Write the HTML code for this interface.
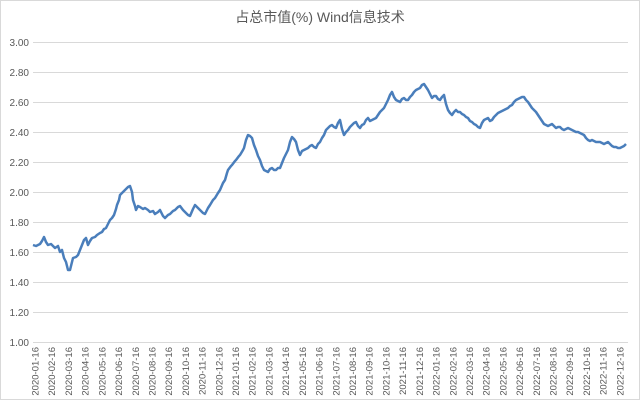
<!DOCTYPE html>
<html><head><meta charset="utf-8"><style>
html,body{margin:0;padding:0;background:#fff;}
svg{display:block;}
text{font-family:"Liberation Sans","Noto Sans CJK SC",sans-serif;fill:#595959;}
</style></head><body>
<svg width="640" height="400" viewBox="0 0 640 400" xmlns="http://www.w3.org/2000/svg">
<rect x="0.5" y="0.5" width="639" height="399" fill="#fff" stroke="#d9d9d9"/>
<text x="320" y="22" font-size="14" text-anchor="middle">占总市值(%) Wind信息技术</text>
<g stroke="#d9d9d9" stroke-width="1">
<line x1="33" x2="628" y1="42.5" y2="42.5"/>
<line x1="33" x2="628" y1="72.5" y2="72.5"/>
<line x1="33" x2="628" y1="102.5" y2="102.5"/>
<line x1="33" x2="628" y1="132.5" y2="132.5"/>
<line x1="33" x2="628" y1="162.5" y2="162.5"/>
<line x1="33" x2="628" y1="192.5" y2="192.5"/>
<line x1="33" x2="628" y1="222.5" y2="222.5"/>
<line x1="33" x2="628" y1="252.5" y2="252.5"/>
<line x1="33" x2="628" y1="282.5" y2="282.5"/>
<line x1="33" x2="628" y1="312.5" y2="312.5"/>
<line x1="33" x2="628" y1="342.5" y2="342.5"/>
</g>
<g font-size="10" text-anchor="end">
<text x="29" y="46">3.00</text><text x="29" y="76">2.80</text><text x="29" y="106">2.60</text>
<text x="29" y="136">2.40</text><text x="29" y="166">2.20</text><text x="29" y="196">2.00</text>
<text x="29" y="226">1.80</text><text x="29" y="256">1.60</text><text x="29" y="286">1.40</text>
<text x="29" y="316">1.20</text><text x="29" y="346">1.00</text>
</g>
<g font-size="9.5" text-anchor="end">
<text transform="translate(38.5,347) rotate(-90)">2020-01-16</text>
<text transform="translate(55.2,347) rotate(-90)">2020-02-16</text>
<text transform="translate(71.9,347) rotate(-90)">2020-03-16</text>
<text transform="translate(88.6,347) rotate(-90)">2020-04-16</text>
<text transform="translate(105.3,347) rotate(-90)">2020-05-16</text>
<text transform="translate(122.1,347) rotate(-90)">2020-06-16</text>
<text transform="translate(138.8,347) rotate(-90)">2020-07-16</text>
<text transform="translate(155.5,347) rotate(-90)">2020-08-16</text>
<text transform="translate(172.2,347) rotate(-90)">2020-09-16</text>
<text transform="translate(188.9,347) rotate(-90)">2020-10-16</text>
<text transform="translate(205.6,347) rotate(-90)">2020-11-16</text>
<text transform="translate(222.3,347) rotate(-90)">2020-12-16</text>
<text transform="translate(239.0,347) rotate(-90)">2021-01-16</text>
<text transform="translate(255.7,347) rotate(-90)">2021-02-16</text>
<text transform="translate(272.4,347) rotate(-90)">2021-03-16</text>
<text transform="translate(289.2,347) rotate(-90)">2021-04-16</text>
<text transform="translate(305.9,347) rotate(-90)">2021-05-16</text>
<text transform="translate(322.6,347) rotate(-90)">2021-06-16</text>
<text transform="translate(339.3,347) rotate(-90)">2021-07-16</text>
<text transform="translate(356.0,347) rotate(-90)">2021-08-16</text>
<text transform="translate(372.7,347) rotate(-90)">2021-09-16</text>
<text transform="translate(389.4,347) rotate(-90)">2021-10-16</text>
<text transform="translate(406.1,347) rotate(-90)">2021-11-16</text>
<text transform="translate(422.8,347) rotate(-90)">2021-12-16</text>
<text transform="translate(439.5,347) rotate(-90)">2022-01-16</text>
<text transform="translate(456.3,347) rotate(-90)">2022-02-16</text>
<text transform="translate(473.0,347) rotate(-90)">2022-03-16</text>
<text transform="translate(489.7,347) rotate(-90)">2022-04-16</text>
<text transform="translate(506.4,347) rotate(-90)">2022-05-16</text>
<text transform="translate(523.1,347) rotate(-90)">2022-06-16</text>
<text transform="translate(539.8,347) rotate(-90)">2022-07-16</text>
<text transform="translate(556.5,347) rotate(-90)">2022-08-16</text>
<text transform="translate(573.2,347) rotate(-90)">2022-09-16</text>
<text transform="translate(589.9,347) rotate(-90)">2022-10-16</text>
<text transform="translate(606.6,347) rotate(-90)">2022-11-16</text>
<text transform="translate(623.4,347) rotate(-90)">2022-12-16</text>
</g>
<polyline fill="none" stroke="#4a7ebb" stroke-width="2.5" stroke-linejoin="round" points="33,245 36,246 40,244 42,241 44,237 46,242 48,245 51,244 55,248 58,246 60,252 62,250 64,258 66,262 68,270 70,270 72,262 73,258 76,257 78,255 80,250 82,245 84,240 86,238 88,245 90,241 92,238 95,237 97,235 100,233 102,232 104,229 106,228 108,224 110,220 112,218 114,215 116,209 117,205 119,200 120,195 123,192 125,190 128,187 130,186 132,192 133,200 135,206 136,210 138,206 140,207 143,209 145,208 148,210 150,212 153,211 155,214 158,212 160,210 163,216 165,218 168,215 170,214 173,211 175,210 178,207 180,206 183,210 185,212 188,215 190,216 193,209 195,205 198,208 200,210 203,213 205,214 208,208 210,205 213,200 215,198 218,193 220,190 223,183 225,180 227,173 228,170 231,166 232,165 235,161 236,160 239,156 240,155 243,150 244,148 246,140 248,135 250,136 252,138 254,145 256,150 258,156 260,160 262,166 264,170 266,171 268,172 270,169 272,168 274,170 276,170 278,168 280,168 282,163 284,158 286,154 288,150 290,142 292,137 294,139 296,142 298,150 300,155 302,151 304,150 306,149 308,148 310,146 312,145 314,147 316,148 318,144 320,142 322,138 324,135 326,130 328,128 330,126 332,125 334,127 336,128 338,123 340,120 342,129 344,135 346,132 348,130 350,127 352,125 354,123 356,122 358,126 360,128 362,125 364,124 366,120 368,118 370,121 372,120 374,119 376,118 378,115 380,112 382,110 384,108 386,104 388,100 390,95 392,92 394,97 396,100 398,101 400,102 402,99 404,98 406,100 408,100 410,97 412,95 414,92 416,90 418,89 420,88 422,85 424,84 426,87 428,90 430,94 432,98 434,96 436,96 438,99 440,100 442,97 444,95 446,104 448,110 450,113 452,115 454,112 456,110 458,112 460,112 462,114 464,115 466,117 468,118 470,121 472,122 474,124 476,125 478,127 480,128 482,123 484,120 486,119 488,118 490,121 492,120 494,117 496,115 498,113 500,112 502,111 504,110 506,109 508,108 510,106 512,105 514,102 516,100 518,99 520,98 522,97 524,97 526,100 528,102 530,105 532,108 534,110 536,112 538,115 540,118 542,121 544,124 546,125 548,126 550,125 552,124 554,126 556,128 558,127 560,127 562,129 564,130 566,129 568,128 570,129 572,130 574,131 576,132 578,132 580,133 582,134 584,135 586,138 588,140 590,141 592,140 594,141 596,142 598,142 600,142 602,143 604,144 606,143 608,142 610,144 612,146 614,147 616,147 618,148 620,148 622,147 624,146 626,144"/>
</svg>
</body></html>
